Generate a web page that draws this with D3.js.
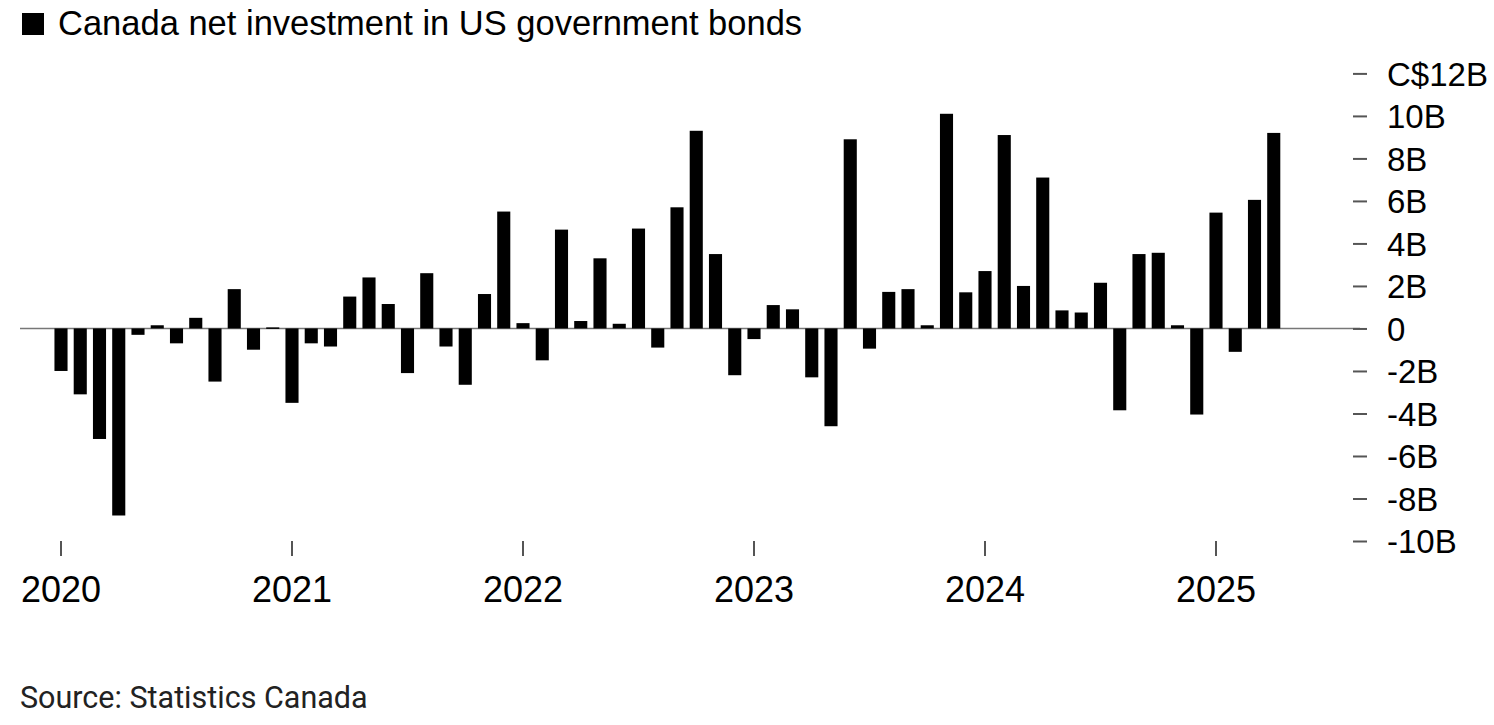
<!DOCTYPE html>
<html>
<head>
<meta charset="utf-8">
<script src="https://cdn.jsdelivr.net/npm/d3@7"></script>
<style>
body{margin:0;background:#fff;}
text{font-family:"Liberation Sans",Arial,sans-serif;fill:#000;}
</style>
</head>
<body>
<div id="chart-area"></div>
<script>
//---------DATA----------------
let startYear=2020;
let months=["Jan","Feb","Mar","Apr","May","Jun","Jul","Aug","Sep","Oct","Nov","Dec"];
// net investment, C$ billions, Jan 2020 - Apr 2025
let values=[
	-2.0,-3.1,-5.2,-8.8,-0.3,0.15,-0.7,0.5,-2.5,1.85,-1.0,0.05,
	-3.5,-0.7,-0.85,1.5,2.4,1.15,-2.1,2.6,-0.85,-2.65,1.62,5.5,
	0.25,-1.5,4.65,0.35,3.3,0.22,4.7,-0.9,5.7,9.3,3.5,-2.2,
	-0.5,1.1,0.9,-2.3,-4.6,8.9,-0.95,1.72,1.85,0.15,10.1,1.7,
	2.7,9.1,2.0,7.1,0.85,0.75,2.15,-3.85,3.5,3.56,0.15,-4.05,
	5.45,-1.1,6.05,9.2
];
let yTicks=[12,10,8,6,4,2,0,-2,-4,-6,-8,-10];
let yearTicks=[2020,2021,2022,2023,2024,2025];

let data=values.map(function(v,i){
	return {key:months[i%12]+' '+(startYear+Math.floor(i/12)),year:startYear+Math.floor(i/12),month:i%12,value:v};
});

let width=1494;
let height=725;

let svg=d3.select("#chart-area").append('svg')
	.attr('width',width)
	.attr('height',height);

//---------SCALES--------------
let step=19.25;
let x=d3.scaleBand()
	.domain(data.map(d=>d.key))
	.range([61-step/2,61-step/2+data.length*step])
	.paddingInner(0.32)
	.paddingOuter(0.16);

let y=d3.scaleLinear()
	.domain([-10,12])
	.range([541,73.4]);

//-------ZERO LINE-------------
svg.append('line')
	.attr('x1',20)
	.attr('x2',1360)
	.attr('y1',y(0))
	.attr('y2',y(0))
	.attr('stroke','#777')
	.attr('stroke-width',1.5);

//-------BARS------------------
svg.selectAll('rect.bar').data(data)
	.enter().append('rect')
		.attr('class','bar')
		.attr('x',d=>x(d.key))
		.attr('width',x.bandwidth())
		.attr('y',d=>y(Math.max(0,d.value)))
		.attr('height',d=>Math.max(1.5,Math.abs(y(d.value)-y(0))))
		.attr('fill','#000');

//-------AXES------------------
let yAxis=d3.axisRight(y)
	.tickValues(yTicks)
	.tickSize(14)
	.tickPadding(20)
	.tickFormat(d=>d===12?'C$12B':(d===0?'0':d+'B'));

let yAxisGroup=svg.append('g')
	.attr('transform','translate(1353,0)')
	.call(yAxis);
yAxisGroup.select('.domain').remove();
yAxisGroup.selectAll('line').attr('stroke','#555').attr('stroke-width',2);
yAxisGroup.selectAll('text')
	.attr('font-size','33px')
	.attr('font-family','"Liberation Sans",Arial,sans-serif')
	.attr('fill','#000')
	.attr('dy','0.36em');

let xAxis=d3.axisBottom(x)
	.tickValues(yearTicks.map(yr=>'Jan '+yr))
	.tickSize(15)
	.tickPadding(20)
	.tickFormat(d=>d.slice(4));

let xAxisGroup=svg.append('g')
	.attr('transform','translate(0,541)')
	.call(xAxis);
xAxisGroup.select('.domain').remove();
xAxisGroup.selectAll('line').attr('stroke','#555').attr('stroke-width',2);
xAxisGroup.selectAll('text')
	.attr('font-size','36px')
	.attr('font-family','"Liberation Sans",Arial,sans-serif')
	.attr('fill','#000');

//------TITLE / LEGEND---------
svg.append('rect')
	.attr('x',22)
	.attr('y',13)
	.attr('width',22)
	.attr('height',22)
	.attr('fill','#000');

svg.append('text')
	.attr('x',58)
	.attr('y',35)
	.attr('font-size','34.5px')
	.text('Canada net investment in US government bonds');

//------SOURCE-----------------
svg.append('text')
	.attr('x',20)
	.attr('y',708)
	.attr('font-size','30.5px')
	.style('font-family','Roboto, sans-serif')
	.style('fill','#222')
	.text('Source: Statistics Canada');
</script>
</body>
</html>
